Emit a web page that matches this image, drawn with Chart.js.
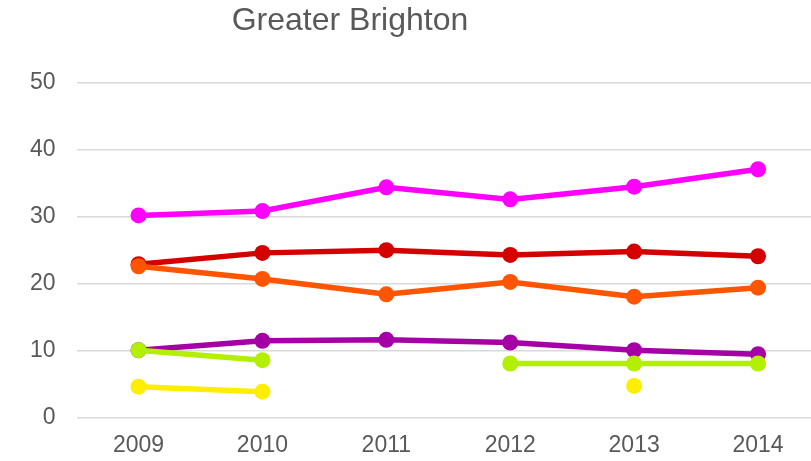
<!DOCTYPE html>
<html><head><meta charset="utf-8">
<script src="https://cdn.jsdelivr.net/npm/chart.js@4"></script>
<style>
html,body{margin:0;padding:0;overflow:hidden;background:#fff;width:811px;height:461px}
#wrap{position:absolute;left:0;top:0;width:828px;height:477px}
#title{position:absolute;left:0;width:700px;text-align:center;font-family:"Liberation Sans",Arial,sans-serif;font-size:32px;color:#595959;line-height:36px;top:1px}
</style></head>
<body>
<div id="wrap"><canvas id="c" width="828" height="477"></canvas></div>
<div id="title">Greater Brighton</div>
<script>
const categories = ["2009","2010","2011","2012","2013","2014"];
const magentaVals = [30.2, 30.85, 34.4, 32.6, 34.5, 37.1];
const orangeVals  = [22.6, 20.7, 18.4, 20.25, 18.05, 19.4];
const redVals     = [22.9, 24.6, 25.0, 24.3, 24.8, 24.1];
const limeVals    = [10.05, 8.55, null, 8.06, 8.06, 8.06];
const purpleVals  = [10.05, 11.45, 11.6, 11.2, 10.05, 9.45];
const yellowVals  = [4.6, 3.85, null, null, 4.7, null];
const yTicks = [0, 10, 20, 30, 40, 50];

function ds(data, color){
  return {data, borderColor:color, backgroundColor:color, pointBackgroundColor:color,
    pointBorderColor:color, borderWidth:5.5, pointRadius:8, pointHoverRadius:8,
    pointBorderWidth:0, spanGaps:false, tension:0, fill:false};
}
new Chart(document.getElementById('c'), {
  type:'line',
  data:{labels:categories, datasets:[
    ds(magentaVals,'#FF00FF'),
    ds(orangeVals,'#FF5500'),
    ds(redVals,'#D40000'),
    ds(limeVals,'#B2F000'),
    ds(purpleVals,'#A500A5'),
    ds(yellowVals,'#FFEE00')
  ]},
  options:{
    responsive:false, animation:false, devicePixelRatio:1,
    layout:{padding:{left:9,right:1,top:83,bottom:4}},
    plugins:{legend:{display:false}, tooltip:{enabled:false}, title:{display:false}},
    scales:{
      x:{offset:true, grid:{display:false, drawTicks:false}, border:{display:false},
         ticks:{color:'#595959', padding:14, font:{family:'"Liberation Sans", Arial, sans-serif', size:23}}},
      y:{min:0, max:50, afterBuildTicks:(s)=>{s.ticks = yTicks.map(v=>({value:v}));},
         grid:{color:'#d9d9d9', lineWidth:1.5, drawTicks:false}, border:{display:false},
         ticks:{color:'#595959', padding:21, font:{family:'"Liberation Sans", Arial, sans-serif', size:23}}}
    }
  }
});
</script>
</body></html>
